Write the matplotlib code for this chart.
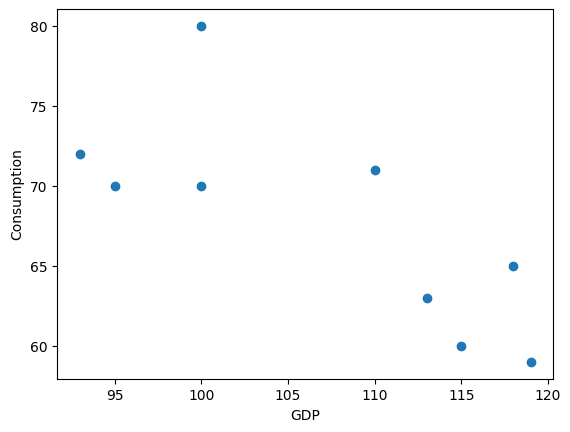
import matplotlib
matplotlib.use("Agg")
import matplotlib.pyplot as plt

gdp = [93, 95, 100, 100, 110, 113, 115, 118, 119]
consumption = [72, 70, 80, 70, 71, 63, 60, 65, 59]

fig, ax = plt.subplots(figsize=(5.7, 4.32), dpi=100)
fig.subplots_adjust(left=57.3/570, right=553.3/570, top=1-9.3/432, bottom=1-379.3/432)
ax.scatter(gdp, consumption)
ax.set_xlabel("GDP")
ax.set_ylabel("Consumption")
fig.savefig("out.png")
